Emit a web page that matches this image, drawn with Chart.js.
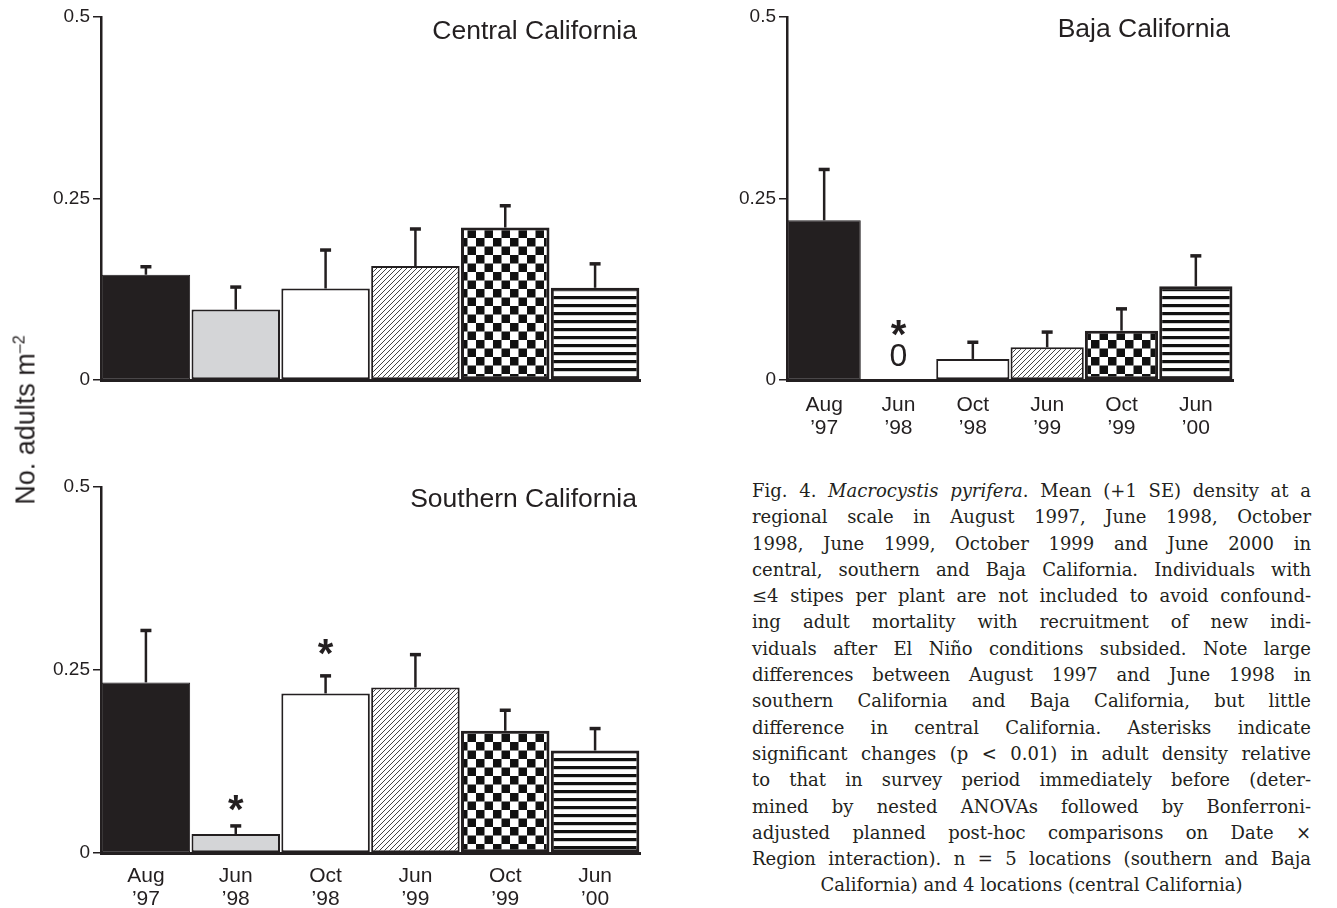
<!DOCTYPE html>
<html>
<head>
<meta charset="utf-8">
<script src="https://cdn.jsdelivr.net/npm/chart.js@4.4.1/dist/chart.umd.min.js"></script>
<style>
  body { margin: 0; width: 1337px; height: 908px; background: #fff; position: relative; overflow: hidden;
         font-family: "Liberation Sans", Arial, sans-serif; color: #231f20; }
  canvas { position: absolute; }
  #central { left: 0; top: 0; }
  #baja { left: 700px; top: 0; }
  #southern { left: 0; top: 470px; }
  #ytitle { position: absolute; left: 26px; top: 420px; transform: translate(-50%, -50%) rotate(-90deg);
            font-size: 27px; white-space: nowrap; }
  #ytitle sup { font-size: 16px; }
  #caption { position: absolute; left: 752px; top: 478px; width: 559px; font-family: "DejaVu Serif", serif;
             font-size: 18px; line-height: 26.3px; color: #231f20; }
  #caption .body { text-align: justify; text-align-last: justify; }
  #caption .last { text-align: center; }
</style>
</head>
<body>
<canvas id="central" width="660" height="440"></canvas>
<canvas id="baja" width="560" height="440"></canvas>
<canvas id="southern" width="660" height="438"></canvas>
<div id="ytitle">No. adults m<sup>–2</sup></div>
<div id="caption">
  <div class="body">Fig. 4. <i>Macrocystis pyrifera</i>. Mean (+1 SE) density at a<br>
regional scale in August 1997, June 1998, October<br>
1998, June 1999, October 1999 and June 2000 in<br>
central, southern and Baja California. Individuals with<br>
≤4 stipes per plant are not included to avoid confound-<br>
ing adult mortality with recruitment of new indi-<br>
viduals after El Niño conditions subsided. Note large<br>
differences between August 1997 and June 1998 in<br>
southern California and Baja California, but little<br>
difference in central California. Asterisks indicate<br>
significant changes (p &lt; 0.01) in adult density relative<br>
to that in survey period immediately before (deter-<br>
mined by nested ANOVAs followed by Bonferroni-<br>
adjusted planned post-hoc comparisons on Date ×<br>
Region interaction). n = 5 locations (southern and Baja</div>
  <div class="last">California) and 4 locations (central California)</div>
</div>
<script>
const periods = [["Aug", "’97"], ["Jun", "’98"], ["Oct", "’98"], ["Jun", "’99"], ["Oct", "’99"], ["Jun", "’00"]];
const yTicks = [0, 0.25, 0.5];

const centralMeans = [0.145, 0.097, 0.126, 0.157, 0.210, 0.127];
const centralSE = [0.011, 0.031, 0.053, 0.051, 0.030, 0.033];

const bajaMeans = [0.220, 0, 0.029, 0.045, 0.068, 0.129];
const bajaSE = [0.070, null, 0.023, 0.021, 0.030, 0.042];
const bajaStars = [null, 0.072, null, null, null, null];
const bajaZeroMarks = [null, 0.033, null, null, null, null];

const southernMeans = [0.233, 0.026, 0.218, 0.226, 0.167, 0.140];
const southernSE = [0.071, 0.011, 0.024, 0.045, 0.028, 0.030];
const southernStars = [null, 0.069, 0.281, null, null, null];

const INK = "#231f20";

function makePattern(w, h, draw) {
    const c = document.createElement("canvas");
    c.width = w;
    c.height = h;
    const g = c.getContext("2d");
    g.fillStyle = "#fff";
    g.fillRect(0, 0, w, h);
    draw(g);
    return g.createPattern(c, "repeat");
}

const hatch = makePattern(5, 5, g => {
    g.strokeStyle = "#444";
    g.lineWidth = 1;
    g.beginPath();
    g.moveTo(-1, 6); g.lineTo(6, -1);
    g.moveTo(-1, 1); g.lineTo(1, -1);
    g.moveTo(4, 6); g.lineTo(6, 4);
    g.stroke();
});
const checker = makePattern(17, 17, g => {
    g.fillStyle = "#111";
    g.fillRect(0, 0, 8.5, 8.5);
    g.fillRect(8.5, 8.5, 8.5, 8.5);
});
const stripes = makePattern(4, 8.7, g => {
    g.fillStyle = "#111";
    g.fillRect(0, 0, 4, 3.2);
});

const fills = [INK, "#d4d5d7", "#ffffff", hatch, checker, stripes];
const borders = [1, 2, 2, 2, 3, 3];

const panelPlugin = {
    id: "panelExtras",
    afterDatasetsDraw(chart, args, opts) {
        const ctx = chart.ctx;
        const x = chart.scales.x, y = chart.scales.y;
        ctx.save();
        // error bars (+1 SE)
        ctx.strokeStyle = INK;
        (opts.se || []).forEach((se, i) => {
            if (se == null) return;
            const m = chart.data.datasets[0].data[i];
            const cx = x.getPixelForValue(i);
            const y0 = y.getPixelForValue(m);
            const y1 = y.getPixelForValue(m + se);
            ctx.lineWidth = 2.5;
            ctx.beginPath();
            ctx.moveTo(cx, y0);
            ctx.lineTo(cx, y1);
            ctx.stroke();
            ctx.lineWidth = 3.5;
            ctx.beginPath();
            ctx.moveTo(cx - 5.5, y1);
            ctx.lineTo(cx + 5.5, y1);
            ctx.stroke();
        });
        ctx.fillStyle = INK;
        ctx.textAlign = "center";
        ctx.textBaseline = "middle";
        ctx.font = "bold 40px 'Liberation Sans'";
        (opts.stars || []).forEach((v, i) => {
            if (v == null) return;
            ctx.fillText("*", x.getPixelForValue(i), y.getPixelForValue(v) + 9);
        });
        ctx.font = "32px 'Liberation Sans'";
        (opts.zeros || []).forEach((v, i) => {
            if (v == null) return;
            ctx.fillText("0", x.getPixelForValue(i), y.getPixelForValue(v) + 1);
        });
        // panel title
        ctx.font = "26.5px 'Liberation Sans'";
        ctx.textAlign = "right";
        ctx.fillText(opts.title, chart.chartArea.right - 3, chart.chartArea.top + opts.titleDy);
        ctx.restore();
    }
};

function makePanel(id, means, se, extras) {
    return new Chart(document.getElementById(id), {
        type: "bar",
        data: {
            labels: periods,
            datasets: [{
                data: means,
                backgroundColor: fills,
                borderColor: INK,
                borderWidth: borders,
                borderSkipped: false,
                categoryPercentage: 1,
                barPercentage: 0.985
            }]
        },
        options: {
            responsive: false,
            animation: false,
            devicePixelRatio: 1,
            layout: { padding: { top: 17, right: extras.padRight, left: 0, bottom: 0 } },
            plugins: {
                legend: { display: false },
                tooltip: { enabled: false },
                panelExtras: {
                    se: se,
                    stars: extras.stars,
                    zeros: extras.zeros,
                    title: extras.title,
                    titleDy: extras.titleDy
                }
            },
            scales: {
                x: {
                    grid: { display: false },
                    border: { display: true, color: INK, width: 3 },
                    ticks: {
                        display: extras.showX,
                        color: INK,
                        font: { family: "Liberation Sans", size: 21, lineHeight: 1.12 },
                        padding: extras.xPad,
                        maxRotation: 0,
                        autoSkip: false
                    },
                    afterFit: s => { s.height = extras.xHeight; }
                },
                y: {
                    min: 0,
                    max: 0.5,
                    afterBuildTicks: s => { s.ticks = yTicks.map(v => ({ value: v })); },
                    afterFit: s => { s.width = extras.axisW; },
                    grid: { display: true, drawOnChartArea: false, drawTicks: true, tickLength: 8, color: INK, lineWidth: 1.5 },
                    border: { display: true, color: INK, width: 2.5 },
                    ticks: {
                        color: INK,
                        padding: 3,
                        font: { family: "Liberation Sans", size: 19 },
                        callback: v => String(v)
                    }
                }
            }
        },
        plugins: [panelPlugin]
    });
}

makePanel("central", centralMeans, centralSE,
    { title: "Central California", titleDy: 15, showX: false, xHeight: 60, xPad: 2, axisW: 101, padRight: 20 });
makePanel("baja", bajaMeans, bajaSE,
    { title: "Baja California", titleDy: 13, showX: true, xHeight: 60, xPad: 5, axisW: 87, padRight: 27,
      stars: bajaStars, zeros: bajaZeroMarks });
makePanel("southern", southernMeans, southernSE,
    { title: "Southern California", titleDy: 13, showX: true, xHeight: 55, xPad: 3, axisW: 101, padRight: 20,
      stars: southernStars });
</script>
</body>
</html>
